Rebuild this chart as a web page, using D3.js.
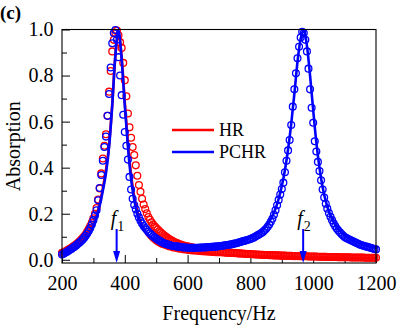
<!DOCTYPE html>
<html>
<head>
<meta charset="utf-8">
<script src="https://cdn.jsdelivr.net/npm/d3@7"></script>
<style>
  body { margin: 0; background: #fff; }
  svg { display: block; }
  text { font-family: "Liberation Serif", "Times New Roman", serif; fill: #000; }
</style>
</head>
<body>
<div id="chart"></div>
<script>
// Frequency grids (Hz): simulation samples every 5 Hz, theory curves every 10 Hz
const simFreqs = d3.range(200, 1201, 5);
const theoryFreqs = d3.range(200, 1201, 10);

// HR, simulated absorption (circles), 200..1200 Hz step 5
const hrSim = [
  0.030, 0.033, 0.036, 0.040, 0.044, 0.048, 0.052, 0.057, 0.062, 0.067, 0.073, 0.079, 0.086, 0.093, 0.101, 0.110, 0.121, 0.133, 0.147, 0.162,
  0.180, 0.200, 0.225, 0.262, 0.310, 0.375, 0.440, 0.495, 0.545, 0.625, 0.730, 0.820, 0.905, 0.955, 0.985, 0.995, 0.975, 0.945, 0.920, 0.855,
  0.780, 0.710, 0.635, 0.575, 0.530, 0.490, 0.455, 0.410, 0.365, 0.325, 0.295, 0.265, 0.240, 0.220, 0.202, 0.186, 0.174, 0.163, 0.153, 0.145,
  0.138, 0.131, 0.124, 0.118, 0.112, 0.106, 0.101, 0.096, 0.091, 0.087, 0.083, 0.079, 0.076, 0.073, 0.070, 0.067, 0.065, 0.063, 0.061, 0.059,
  0.058, 0.056, 0.055, 0.053, 0.052, 0.050, 0.049, 0.048, 0.047, 0.046, 0.045, 0.044, 0.043, 0.042, 0.041, 0.040, 0.039, 0.038, 0.037, 0.037,
  0.036, 0.035, 0.034, 0.034, 0.033, 0.032, 0.032, 0.031, 0.030, 0.030, 0.029, 0.029, 0.028, 0.028, 0.027, 0.027, 0.026, 0.026, 0.025, 0.025,
  0.025, 0.024, 0.024, 0.023, 0.023, 0.023, 0.022, 0.022, 0.022, 0.021, 0.021, 0.021, 0.020, 0.020, 0.020, 0.019, 0.019, 0.019, 0.019, 0.018,
  0.018, 0.018, 0.018, 0.017, 0.017, 0.017, 0.017, 0.016, 0.016, 0.016, 0.016, 0.016, 0.015, 0.015, 0.015, 0.015, 0.015, 0.014, 0.014, 0.014,
  0.014, 0.014, 0.014, 0.013, 0.013, 0.013, 0.013, 0.013, 0.013, 0.012, 0.012, 0.012, 0.012, 0.012, 0.012, 0.012, 0.011, 0.011, 0.011, 0.011,
  0.011, 0.011, 0.011, 0.011, 0.010, 0.010, 0.010, 0.010, 0.010, 0.010, 0.010, 0.010, 0.010, 0.009, 0.009, 0.009, 0.009, 0.009, 0.009, 0.009,
  0.009
];

// PCHR, simulated absorption (circles), 200..1200 Hz step 5
const pchrSim = [
  0.023, 0.026, 0.030, 0.034, 0.038, 0.043, 0.047, 0.052, 0.057, 0.062, 0.068, 0.074, 0.080, 0.087, 0.095, 0.104, 0.114, 0.125, 0.138, 0.153,
  0.172, 0.192, 0.215, 0.258, 0.312, 0.368, 0.430, 0.490, 0.535, 0.625, 0.720, 0.835, 0.940, 0.985, 0.998, 0.955, 0.880, 0.800, 0.715, 0.630,
  0.555, 0.495, 0.435, 0.360, 0.305, 0.265, 0.238, 0.219, 0.200, 0.184, 0.169, 0.157, 0.147, 0.138, 0.130, 0.122, 0.115, 0.108, 0.102, 0.097,
  0.092, 0.087, 0.083, 0.079, 0.075, 0.072, 0.069, 0.067, 0.065, 0.063, 0.061, 0.060, 0.059, 0.058, 0.057, 0.056, 0.055, 0.054, 0.053, 0.053,
  0.052, 0.052, 0.052, 0.052, 0.052, 0.052, 0.052, 0.052, 0.053, 0.053, 0.053, 0.054, 0.054, 0.055, 0.055, 0.056, 0.056, 0.057, 0.057, 0.058,
  0.059, 0.060, 0.061, 0.062, 0.063, 0.064, 0.065, 0.066, 0.067, 0.069, 0.071, 0.072, 0.074, 0.076, 0.078, 0.080, 0.082, 0.084, 0.086, 0.088,
  0.090, 0.093, 0.096, 0.100, 0.104, 0.108, 0.112, 0.116, 0.121, 0.128, 0.135, 0.143, 0.153, 0.165, 0.178, 0.195, 0.215, 0.237, 0.260, 0.283,
  0.307, 0.335, 0.380, 0.430, 0.475, 0.520, 0.585, 0.665, 0.740, 0.810, 0.875, 0.925, 0.965, 0.990, 0.985, 0.955, 0.905, 0.830, 0.740, 0.660,
  0.595, 0.515, 0.470, 0.425, 0.385, 0.345, 0.305, 0.270, 0.243, 0.222, 0.203, 0.187, 0.172, 0.158, 0.146, 0.136, 0.127, 0.119, 0.112, 0.105,
  0.099, 0.095, 0.091, 0.088, 0.085, 0.081, 0.078, 0.075, 0.072, 0.068, 0.065, 0.063, 0.061, 0.059, 0.057, 0.055, 0.053, 0.051, 0.049, 0.047,
  0.045
];

// HR, theory curve, 200..1200 Hz step 10
const hrTheory = [
  0.036, 0.040, 0.045, 0.051, 0.058, 0.066, 0.076, 0.089, 0.105, 0.126,
  0.155, 0.193, 0.243, 0.310, 0.390, 0.500, 0.675, 0.885, 0.985, 0.880,
  0.685, 0.505, 0.370, 0.275, 0.210, 0.165, 0.133, 0.110, 0.093, 0.080,
  0.070, 0.062, 0.056, 0.051, 0.047, 0.043, 0.040, 0.037, 0.035, 0.033,
  0.031, 0.030, 0.028, 0.027, 0.026, 0.025, 0.024, 0.023, 0.022, 0.021,
  0.021, 0.020, 0.019, 0.019, 0.018, 0.018, 0.017, 0.017, 0.016, 0.016,
  0.016, 0.015, 0.015, 0.015, 0.014, 0.014, 0.014, 0.013, 0.013, 0.013,
  0.013, 0.012, 0.012, 0.012, 0.012, 0.011, 0.011, 0.011, 0.011, 0.011,
  0.010, 0.010, 0.010, 0.010, 0.010, 0.009, 0.009, 0.009, 0.009, 0.009,
  0.009, 0.009, 0.008, 0.008, 0.008, 0.008, 0.008, 0.008, 0.008, 0.008,
  0.007
];

// PCHR, theory curve, 200..1200 Hz step 10
const pchrTheory = [
  0.025, 0.029, 0.034, 0.040, 0.047, 0.055, 0.065, 0.078, 0.094, 0.116,
  0.145, 0.185, 0.235, 0.300, 0.375, 0.490, 0.670, 0.890, 0.995, 0.870,
  0.670, 0.490, 0.350, 0.260, 0.200, 0.160, 0.132, 0.113, 0.100, 0.090,
  0.082, 0.076, 0.071, 0.067, 0.064, 0.062, 0.060, 0.058, 0.057, 0.056,
  0.055, 0.055, 0.055, 0.055, 0.055, 0.056, 0.056, 0.057, 0.058, 0.059,
  0.060, 0.062, 0.064, 0.066, 0.069, 0.072, 0.075, 0.079, 0.084, 0.089,
  0.095, 0.102, 0.110, 0.120, 0.132, 0.147, 0.166, 0.190, 0.222, 0.265,
  0.320, 0.390, 0.480, 0.590, 0.720, 0.860, 0.960, 0.995, 0.930, 0.800,
  0.650, 0.510, 0.400, 0.315, 0.255, 0.210, 0.177, 0.152, 0.133, 0.118,
  0.106, 0.096, 0.088, 0.081, 0.075, 0.070, 0.065, 0.061, 0.057, 0.054,
  0.050
];

const seriesNames = ["HR", "PCHR"];
const seriesColors = ["#ff0000", "#0000ff"];

// resonance markers
const peakFreqs = [374, 968];
const peakLabels = ["1", "2"];

const xTicksMajor = [200, 400, 600, 800, 1000, 1200];
const xTicksMinor = [300, 500, 700, 900, 1100];
const yTicksMajor = [0, 0.2, 0.4, 0.6, 0.8, 1.0];
const yTicksMinor = [0.1, 0.3, 0.5, 0.7, 0.9];

const W = 400, H = 328;
const margin = { top: 29.5, right: 24, bottom: 65, left: 62 };

const svg = d3.select('#chart').append('svg')
    .attr('width', W)
    .attr('height', H);

const x = d3.scaleLinear().domain([200, 1200]).range([margin.left, W - margin.right]);
const y = d3.scaleLinear().domain([-0.014, 1.0]).range([H - margin.bottom, margin.top]);

// axes with inward ticks
const gx = svg.append('g').attr('transform', `translate(0,${H - margin.bottom})`);
gx.call(d3.axisBottom(x).tickValues(xTicksMajor).tickSize(-8).tickPadding(13).tickFormat(d3.format('d')));
gx.append('g').call(d3.axisBottom(x).tickValues(xTicksMinor).tickSize(-5).tickFormat(''));

const gy = svg.append('g').attr('transform', `translate(${margin.left},0)`);
gy.call(d3.axisLeft(y).tickValues(yTicksMajor).tickSize(-8).tickPadding(8.5).tickFormat(d3.format('.1f')));
gy.append('g').call(d3.axisLeft(y).tickValues(yTicksMinor).tickSize(-5).tickFormat(''));

svg.selectAll('.domain').remove();
svg.selectAll('.tick line').attr('stroke', '#000').attr('stroke-width', 1);
svg.selectAll('.tick text')
    .style('font-family', '"Liberation Serif", serif')
    .style('font-size', '20px');

// data layers
const plot = svg.append('g');

const line = d3.line()
    .x(d => x(d[0]))
    .y(d => y(d[1]))
    .curve(d3.curveMonotoneX);

const layers = [
    { sim: hrSim, theory: hrTheory, color: seriesColors[0] },
    { sim: pchrSim, theory: pchrTheory, color: seriesColors[1] }
];

layers.forEach(s => {
    plot.append('path')
        .datum(theoryFreqs.map((f, i) => [f, s.theory[i]]))
        .attr('fill', 'none')
        .attr('stroke', s.color)
        .attr('stroke-width', 2.6)
        .attr('d', line);

    plot.append('g')
        .selectAll('circle')
        .data(simFreqs.map((f, i) => [f, s.sim[i]]))
        .join('circle')
        .attr('cx', d => x(d[0]))
        .attr('cy', d => y(d[1]))
        .attr('r', 3.4)
        .attr('fill', 'none')
        .attr('stroke', s.color)
        .attr('stroke-width', 1.3);
});

// frame
svg.append('rect')
    .attr('x', margin.left)
    .attr('y', margin.top)
    .attr('width', W - margin.left - margin.right)
    .attr('height', H - margin.top - margin.bottom)
    .attr('fill', 'none')
    .attr('stroke', '#000')
    .attr('stroke-width', 1.1);

// resonance arrows f1, f2
const arrows = svg.append('g');
peakFreqs.forEach((f, i) => {
    const px = x(f);
    const yBottom = H - margin.bottom;
    arrows.append('line')
        .attr('x1', px).attr('x2', px)
        .attr('y1', 229).attr('y2', yBottom - 10)
        .attr('stroke', '#0000ff')
        .attr('stroke-width', 2);
    arrows.append('path')
        .attr('d', `M${px - 3.5},${yBottom - 12}L${px + 3.5},${yBottom - 12}L${px},${yBottom}Z`)
        .attr('fill', '#0000ff');
    const t = arrows.append('text')
        .attr('x', px - 6)
        .attr('y', 225)
        .style('font-size', '20px');
    t.append('tspan').style('font-style', 'italic').text('f');
    t.append('tspan').attr('dx', 1).attr('dy', 6).style('font-size', '14px').text(peakLabels[i]);
});

// legend
const legend = svg.append('g');
seriesNames.forEach((name, i) => {
    const ly = 130 + i * 22;
    legend.append('line')
        .attr('x1', 172).attr('x2', 214)
        .attr('y1', ly).attr('y2', ly)
        .attr('stroke', seriesColors[i])
        .attr('stroke-width', 2.6);
    legend.append('text')
        .attr('x', 219)
        .attr('y', ly)
        .attr('dy', '0.35em')
        .style('font-size', '18px')
        .text(name);
});

// axis titles and panel tag
svg.append('text')
    .attr('x', (margin.left + W - margin.right) / 2)
    .attr('y', 320)
    .attr('text-anchor', 'middle')
    .style('font-size', '20px')
    .text('Frequency/Hz');

svg.append('text')
    .attr('transform', `translate(20,${(margin.top + H - margin.bottom) / 2}) rotate(-90)`)
    .attr('text-anchor', 'middle')
    .style('font-size', '20px')
    .text('Absorption');

svg.append('text')
    .attr('x', 0)
    .attr('y', 19)
    .style('font-size', '19px')
    .style('font-weight', 'bold')
    .text('(c)');
</script>
</body>
</html>
